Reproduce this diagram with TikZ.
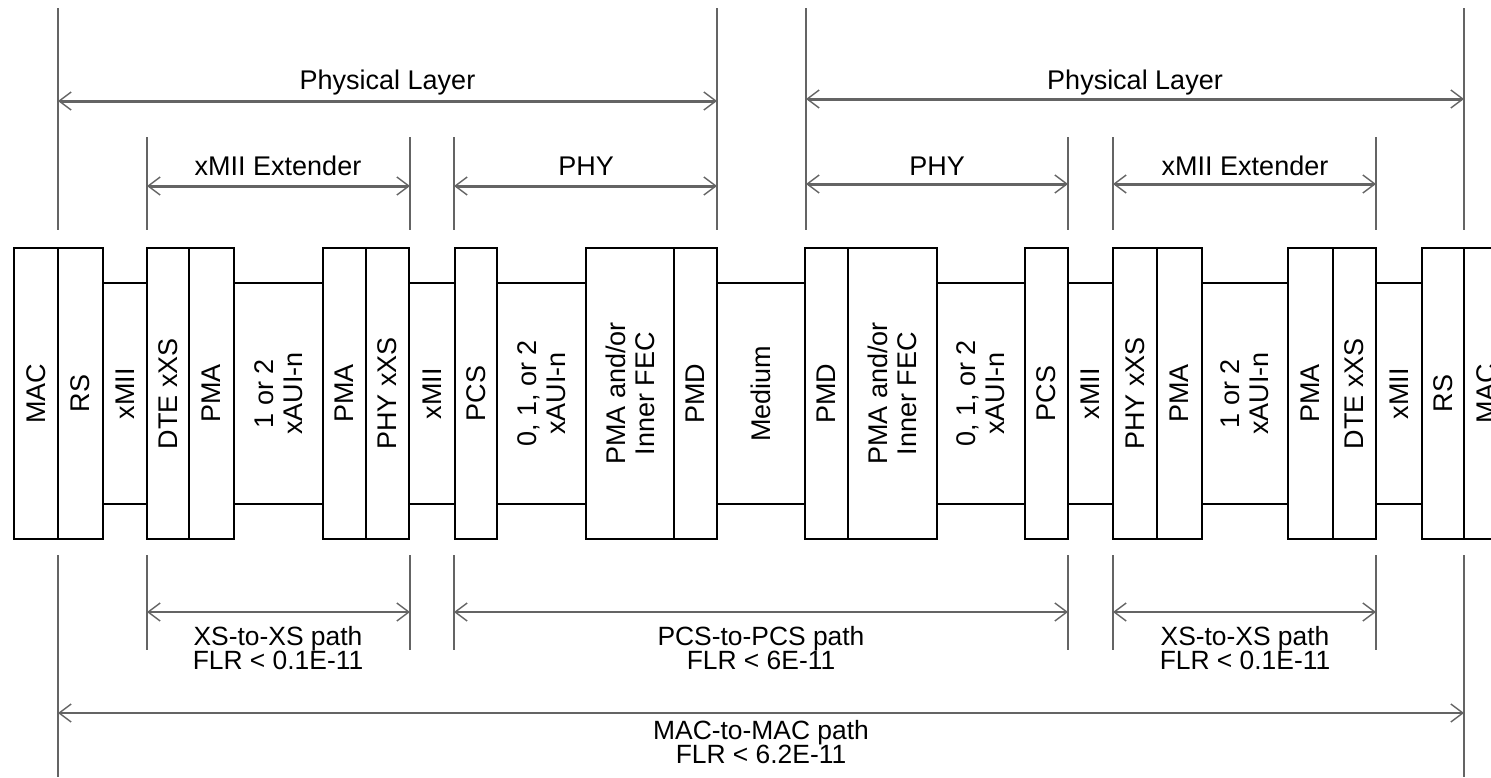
\documentclass[tikz,border=0pt]{standalone}
\usepackage{fontspec}
\setmainfont{Liberation Sans}
\usetikzlibrary{arrows.meta,fit}
\definecolor{dimgray}{HTML}{646464}
\begin{document}
\begin{tikzpicture}[x=0.5pt,y=-0.5pt,
  box/.style={draw=black,line width=1pt,inner sep=0pt,outer sep=0pt},
  lbl/.style={rotate=90,align=center,inner sep=0pt,font=\fontsize{13.5}{14.5}\selectfont},
  txt/.style={anchor=base,inner sep=0pt,font=\fontsize{13.5}{16}\selectfont},
  btxt/.style={anchor=base,inner sep=0pt,font=\fontsize{13.2}{16}\selectfont},
  vthick/.style={draw=dimgray,line width=1.4pt},
  vthin/.style={draw=dimgray,line width=0.75pt},
  barb/.tip={Straight Barb[length=6pt,width=9pt,line width=0.7pt]},
  dimtop/.style={draw=dimgray,line width=1.5pt,barb-barb},
  dimbot/.style={draw=dimgray,line width=0.9pt,barb-barb}]
\useasboundingbox (0,0) rectangle (1491,777);
\clip (0,0) rectangle (1491,777);

% ---------- boxes ----------
\node[box,fit={(14,248)(58,539)}] (mac1) {};
\node[box,fit={(58,248)(103,539)}] (rs1) {};
\node[box,fit={(103,283)(147,504)}] (xmii1) {};
\node[box,fit={(147,248)(189,539)}] (dte1) {};
\node[box,fit={(189,248)(234,539)}] (pma1) {};
\node[box,fit={(234,283)(323,504)}] (xaui1) {};
\node[box,fit={(323,248)(366,539)}] (pma2) {};
\node[box,fit={(366,248)(409,539)}] (phyxs1) {};
\node[box,fit={(409,283)(455,504)}] (xmii2) {};
\node[box,fit={(455,248)(497,539)}] (pcs1) {};
\node[box,fit={(497,283)(586,504)}] (xaui2) {};
\node[box,fit={(586,248)(674,539)}] (fec1) {};
\node[box,fit={(674,248)(717,539)}] (pmd1) {};
\node[box,fit={(717,283)(805,504)}] (medium) {};
\node[box,fit={(805,248)(848,539)}] (pmd2) {};
\node[box,fit={(848,248)(937,539)}] (fec2) {};
\node[box,fit={(937,283)(1025,504)}] (xaui3) {};
\node[box,fit={(1025,248)(1068,539)}] (pcs2) {};
\node[box,fit={(1068,283)(1113,504)}] (xmii3) {};
\node[box,fit={(1113,248)(1157,539)}] (phyxs2) {};
\node[box,fit={(1157,248)(1202,539)}] (pma3) {};
\node[box,fit={(1202,283)(1288,504)}] (xaui4) {};
\node[box,fit={(1288,248)(1333,539)}] (pma4) {};
\node[box,fit={(1333,248)(1376,539)}] (dte2) {};
\node[box,fit={(1376,283)(1422,504)}] (xmii4) {};
\node[box,fit={(1422,248)(1464,539)}] (rs2) {};
\node[box,fit={(1464,248)(1508,539)}] (mac2) {};

% ---------- box labels ----------
\node[lbl] (tmac1) at (mac1) {MAC};
\node[lbl] (trs1) at (rs1) {RS};
\node[lbl] (txmii1) at (xmii1) {xMII};
\node[lbl] (tdte1) at (dte1) {DTE xXS};
\node[lbl] (tpma1) at (pma1) {PMA};
\node[lbl] (txaui1) at (xaui1) {1 or 2\\xAUI-n};
\node[lbl] (tpma2) at (pma2) {PMA};
\node[lbl] (tphyxs1) at (phyxs1) {PHY xXS};
\node[lbl] (txmii2) at (xmii2) {xMII};
\node[lbl] (tpcs1) at (pcs1) {PCS};
\node[lbl] (txaui2) at (xaui2) {0, 1, or 2\\xAUI-n};
\node[lbl] (tfec1) at (fec1) {PMA and/or\\Inner FEC};
\node[lbl] (tpmd1) at (pmd1) {PMD};
\node[lbl] (tmedium) at (medium) {Medium};
\node[lbl] (tpmd2) at (pmd2) {PMD};
\node[lbl] (tfec2) at (fec2) {PMA and/or\\Inner FEC};
\node[lbl] (txaui3) at (xaui3) {0, 1, or 2\\xAUI-n};
\node[lbl] (tpcs2) at (pcs2) {PCS};
\node[lbl] (txmii3) at (xmii3) {xMII};
\node[lbl] (tphyxs2) at (phyxs2) {PHY xXS};
\node[lbl] (tpma3) at (pma3) {PMA};
\node[lbl] (txaui4) at (xaui4) {1 or 2\\xAUI-n};
\node[lbl] (tpma4) at (pma4) {PMA};
\node[lbl] (tdte2) at (dte2) {DTE xXS};
\node[lbl] (txmii4) at (xmii4) {xMII};
\node[lbl] (trs2) at (rs2) {RS};
\node[lbl] (tmac2) at (mac2) {MAC};

% ---------- top extension lines ----------
\coordinate (u58a) at (58,8);    \coordinate (u58b) at (58,230);
\coordinate (u717a) at (717,8);  \coordinate (u717b) at (717,230);
\coordinate (u806a) at (806,8);  \coordinate (u806b) at (806,230);
\coordinate (u1464a) at (1464,8); \coordinate (u1464b) at (1464,230);
\coordinate (u147a) at (147,137); \coordinate (u147b) at (147,230);
\coordinate (u410a) at (410,137); \coordinate (u410b) at (410,230);
\coordinate (u454a) at (454,137); \coordinate (u454b) at (454,230);
\coordinate (u1068a) at (1068,137); \coordinate (u1068b) at (1068,230);
\coordinate (u1113a) at (1113,137); \coordinate (u1113b) at (1113,230);
\coordinate (u1376a) at (1376,137); \coordinate (u1376b) at (1376,230);
\draw[vthick] (u58a) -- (u58b);
\draw[vthick] (u717a) -- (u717b);
\draw[vthin] (u806a) -- (u806b);
\draw[vthick] (u1464a) -- (u1464b);
\draw[vthick] (u147a) -- (u147b);
\draw[vthick] (u410a) -- (u410b);
\draw[vthin] (u454a) -- (u454b);
\draw[vthin] (u1068a) -- (u1068b);
\draw[vthin] (u1113a) -- (u1113b);
\draw[vthick] (u1376a) -- (u1376b);

% ---------- top dimension arrows ----------
\coordinate (pl1a) at (58,101);   \coordinate (pl1b) at (717,101);
\coordinate (pl2a) at (806,99);   \coordinate (pl2b) at (1464,99);
\coordinate (xe1a) at (147,186);  \coordinate (xe1b) at (410,186);
\coordinate (ph1a) at (454,186);  \coordinate (ph1b) at (717,186);
\coordinate (ph2a) at (806,184);  \coordinate (ph2b) at (1068,184);
\coordinate (xe2a) at (1113,184); \coordinate (xe2b) at (1376,184);
\draw[dimtop] (pl1a) -- (pl1b);
\draw[dimtop] (pl2a) -- (pl2b);
\draw[dimtop] (xe1a) -- (xe1b);
\draw[dimtop] (ph1a) -- (ph1b);
\draw[dimtop] (ph2a) -- (ph2b);
\draw[dimtop] (xe2a) -- (xe2b);

\node[txt] (tpl1) at (387.5,89) {Physical Layer};
\node[txt] (tpl2) at (1135,89) {Physical Layer};
\node[txt] (txe1) at (278,175) {xMII Extender};
\node[txt] (tph1) at (586,175) {PHY};
\node[txt] (tph2) at (937,175) {PHY};
\node[txt] (txe2) at (1245,175) {xMII Extender};

% ---------- bottom extension lines ----------
\coordinate (d58a) at (58,555);    \coordinate (d58b) at (58,777);
\coordinate (d1464a) at (1464,555); \coordinate (d1464b) at (1464,777);
\coordinate (d147a) at (147,555);  \coordinate (d147b) at (147,650);
\coordinate (d410a) at (410,555);  \coordinate (d410b) at (410,650);
\coordinate (d454a) at (454,555);  \coordinate (d454b) at (454,650);
\coordinate (d1068a) at (1068,555); \coordinate (d1068b) at (1068,650);
\coordinate (d1113a) at (1113,555); \coordinate (d1113b) at (1113,650);
\coordinate (d1376a) at (1376,555); \coordinate (d1376b) at (1376,650);
\draw[vthick] (d58a) -- (d58b);
\draw[vthick] (d1464a) -- (d1464b);
\draw[vthick] (d147a) -- (d147b);
\draw[vthick] (d410a) -- (d410b);
\draw[vthick] (d454a) -- (d454b);
\draw[vthin] (d1068a) -- (d1068b);
\draw[vthick] (d1113a) -- (d1113b);
\draw[vthick] (d1376a) -- (d1376b);

% ---------- bottom dimension arrows ----------
\coordinate (xs1a) at (147,612);  \coordinate (xs1b) at (410,612);
\coordinate (pcsa) at (454,612);  \coordinate (pcsb) at (1068,612);
\coordinate (xs2a) at (1113,612); \coordinate (xs2b) at (1376,612);
\coordinate (mma) at (58,713);    \coordinate (mmb) at (1464,713);
\draw[dimbot] (xs1a) -- (xs1b);
\draw[dimbot] (pcsa) -- (pcsb);
\draw[dimbot] (xs2a) -- (xs2b);
\draw[dimbot] (mma) -- (mmb);

\node[btxt] (txs1a) at (278,645) {XS-to-XS path};
\node[btxt] (txs1b) at (278,669) {FLR < 0.1E-11};
\node[btxt] (tpcsa) at (761,645) {PCS-to-PCS path};
\node[btxt] (tpcsb) at (761,669) {FLR < 6E-11};
\node[btxt] (txs2a) at (1245,645) {XS-to-XS path};
\node[btxt] (txs2b) at (1245,669) {FLR < 0.1E-11};
\node[btxt] (tmma) at (761,739) {MAC-to-MAC path};
\node[btxt] (tmmb) at (761,763) {FLR < 6.2E-11};
\end{tikzpicture}
\end{document}
